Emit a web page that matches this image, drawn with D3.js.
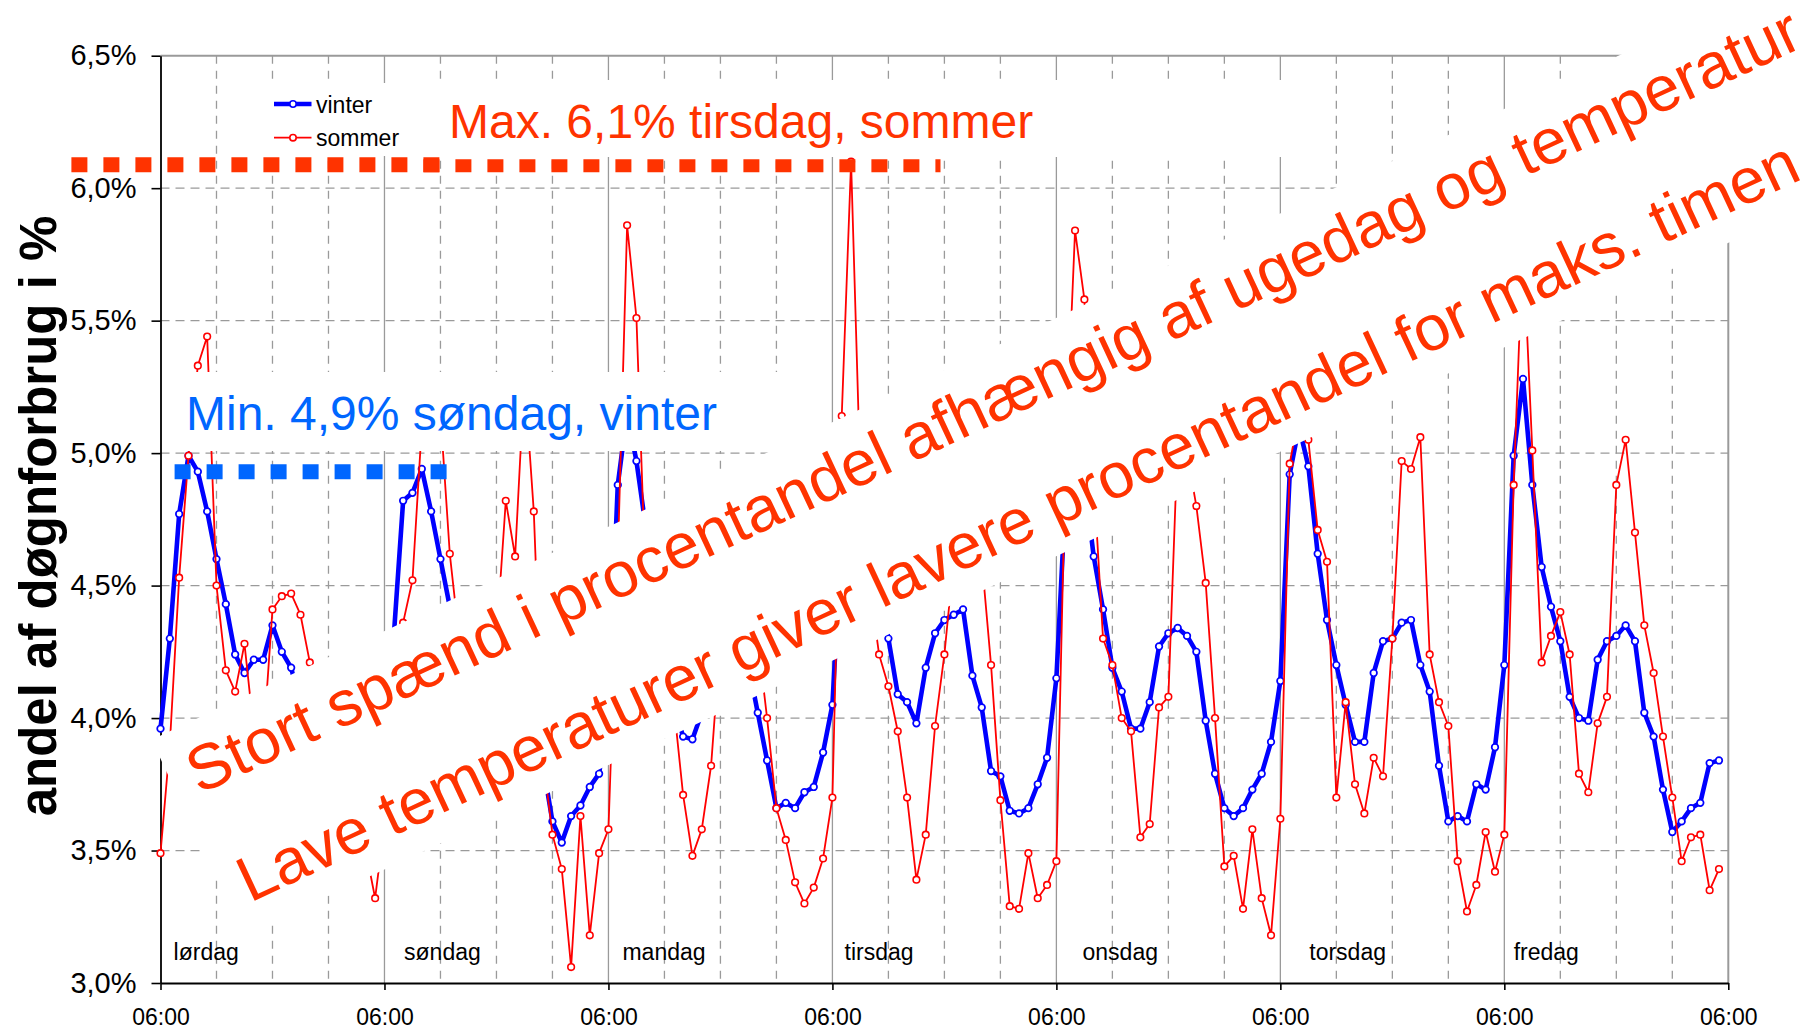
<!DOCTYPE html>
<html><head><meta charset="utf-8">
<script src="https://cdn.jsdelivr.net/npm/d3@7"></script>
<style>
body{margin:0;background:#fff}
svg{display:block}
text{font-family:"Liberation Sans",Arial,Helvetica,sans-serif}
</style>
</head><body>
<svg id="c" width="1807" height="1029"></svg>
<script>
// ---------------- DATA ----------------
const days = ["lørdag","søndag","mandag","tirsdag","onsdag","torsdag","fredag"];
const yTicks = [3.0, 3.5, 4.0, 4.5, 5.0, 5.5, 6.0, 6.5];
const xTickLabels = ["06:00","06:00","06:00","06:00","06:00","06:00","06:00","06:00"];
const seriesNames = ["vinter","sommer"];

// hourly share of daily consumption (%), 24 values per day, starting 06:00 lørdag
const vinter = [
  3.96,4.30,4.77,4.99,4.93,4.78,4.60,4.43,4.24,4.17,4.22,4.22,4.35,4.25,4.19,4.05,3.90,3.78,3.68,3.62,3.62,3.68,3.80,3.95,
  4.05,4.31,4.82,4.85,4.94,4.78,4.60,4.42,4.30,4.25,4.22,4.22,4.28,4.22,4.10,3.98,3.88,3.82,3.61,3.53,3.63,3.67,3.74,3.79,
  4.03,4.88,5.15,4.97,4.72,4.45,4.20,4.05,3.93,3.92,4.02,4.15,4.30,4.35,4.30,4.20,4.02,3.84,3.66,3.68,3.66,3.72,3.74,3.87,
  4.05,4.70,5.13,4.95,4.70,4.50,4.30,4.09,4.06,3.98,4.19,4.32,4.37,4.39,4.41,4.16,4.04,3.80,3.78,3.65,3.64,3.66,3.75,3.85,
  4.15,4.85,5.00,4.90,4.61,4.41,4.19,4.10,3.96,3.96,4.06,4.27,4.32,4.34,4.31,4.25,3.99,3.79,3.66,3.63,3.66,3.73,3.79,3.91,
  4.14,4.92,5.10,4.95,4.62,4.37,4.20,4.05,3.91,3.91,4.17,4.29,4.30,4.36,4.37,4.20,4.10,3.82,3.61,3.63,3.61,3.75,3.73,3.89,
  4.20,4.99,5.28,4.88,4.57,4.42,4.29,4.08,4.00,3.99,4.22,4.29,4.31,4.35,4.29,4.02,3.93,3.73,3.57,3.61,3.66,3.68,3.83,3.84
];
const sommer = [
  3.49,3.90,4.53,4.99,5.33,5.44,4.50,4.18,4.10,4.28,3.95,3.90,4.41,4.46,4.47,4.39,4.21,4.00,3.80,3.65,3.55,3.50,3.50,3.32,
  3.60,4.00,4.36,4.52,5.10,5.20,5.15,4.62,4.30,4.10,4.00,4.05,4.30,4.82,4.61,5.29,4.78,3.85,3.56,3.43,3.06,3.63,3.18,3.49,
  3.58,4.60,5.86,5.51,4.50,4.30,4.10,4.05,3.71,3.48,3.58,3.82,4.30,4.45,4.50,4.45,4.30,4.00,3.66,3.54,3.38,3.30,3.36,3.47,
  3.70,5.14,6.10,4.90,4.50,4.24,4.12,3.95,3.70,3.39,3.56,3.97,4.24,4.60,4.75,4.80,4.60,4.20,3.69,3.29,3.28,3.49,3.32,3.37,
  3.46,5.00,5.84,5.58,4.90,4.30,4.20,4.00,3.95,3.55,3.60,4.04,4.08,5.05,5.00,4.80,4.51,4.00,3.44,3.48,3.28,3.58,3.32,3.18,
  3.62,4.96,5.15,5.05,4.71,4.59,3.70,4.06,3.75,3.64,3.85,3.78,4.30,4.97,4.94,5.06,4.24,4.06,3.97,3.46,3.27,3.37,3.57,3.42,
  3.56,4.88,5.80,5.01,4.21,4.31,4.40,4.24,3.79,3.72,3.98,4.08,4.88,5.05,4.70,4.35,4.17,3.93,3.70,3.46,3.55,3.56,3.35,3.43
];
const maxNote = "Max. 6,1% tirsdag, sommer";
const minNote = "Min. 4,9% søndag, vinter";
const maxLevel = 6.1, minLevel = 4.93;
const bigNotes = ["Stort spænd i procentandel afhængig af ugedag og temperatur",
                  "Lave temperaturer giver lavere procentandel for maks. timen"];
const yTitle = "andel af døgnforbrug i %";

// ---------------- LAYOUT ----------------
const L = 160.5, R = 1728.3, T = 55.7, B = 983;
const dayLabelHourOffset = [1.4, 2.1, 1.5, 1.3, 2.8, 3.1, 1.0];
const GRID = "#9a9a9a";
const BLUE = "#0000ff", RED = "#ff0000", NOTE_RED = "#ff3300", NOTE_BLUE = "#0066ff";

const svg = d3.select("#c");
const nH = vinter.length;
const x = d3.scaleLinear().domain([0, nH]).range([L, R]);
const y = d3.scaleLinear().domain([3, 6.5]).range([B, T]);

// grid
const g = svg.append("g");
g.selectAll("line.h").data(yTicks.filter(v => v > 3 && v < 6.5)).join("line")
  .attr("x1", L).attr("x2", R).attr("y1", d => y(d)).attr("y2", d => y(d))
  .attr("stroke", GRID).attr("stroke-width", 1.3).attr("stroke-dasharray", "9,6");
g.selectAll("line.v").data(d3.range(6, nH, 6)).join("line")
  .attr("x1", d => x(d)).attr("x2", d => x(d)).attr("y1", T).attr("y2", B)
  .attr("stroke", GRID).attr("stroke-width", 1.3)
  .attr("stroke-dasharray", d => d % 24 === 0 ? null : "8,7");
// top and right border
g.append("line").attr("x1", L).attr("x2", R).attr("y1", y(6.5)).attr("y2", y(6.5))
  .attr("stroke", GRID).attr("stroke-width", 2);
g.append("line").attr("x1", R).attr("x2", R).attr("y1", T).attr("y2", B)
  .attr("stroke", GRID).attr("stroke-width", 2);

// axes
const yAxis = svg.append("g").attr("transform", `translate(${L},0)`)
  .call(d3.axisLeft(y).tickValues(yTicks).tickSize(9).tickSizeOuter(0).tickPadding(15)
        .tickFormat(d => d.toFixed(1).replace(".", ",") + "%"));
yAxis.selectAll("text").attr("font-size", 29).attr("fill", "#000")
  .style("font-family", '"Liberation Sans",Arial,sans-serif');
yAxis.selectAll("line").attr("stroke", "#000").attr("stroke-width", 1.6);
yAxis.select(".domain").attr("stroke", "#000").attr("stroke-width", 1.8);

const xAxis = svg.append("g").attr("transform", `translate(0,${B})`)
  .call(d3.axisBottom(x).tickValues(d3.range(0, nH + 1, 24)).tickSize(7).tickSizeOuter(0).tickPadding(19)
        .tickFormat((d, i) => xTickLabels[i]));
xAxis.selectAll("text").attr("font-size", 23).attr("fill", "#000")
  .style("font-family", '"Liberation Sans",Arial,sans-serif');
xAxis.selectAll("line").attr("stroke", "#000").attr("stroke-width", 1.6);
xAxis.select(".domain").attr("stroke", "#000").attr("stroke-width", 2);

// day labels
svg.append("g").selectAll("text").data(days).join("text")
  .attr("x", (d, i) => x(i * 24 + dayLabelHourOffset[i])).attr("y", 960)
  .attr("font-size", 23).attr("fill", "#000").text(d => d);

// y title
svg.append("text").attr("transform", `translate(56,516) rotate(-90)`)
  .attr("text-anchor", "middle").attr("font-size", 51).attr("font-weight", "bold")
  .attr("fill", "#000").text(yTitle);

// series
const line = d3.line().x((d, i) => x(i)).y(d => y(d));
function drawSeries(data, color, w, r, sw) {
  const s = svg.append("g");
  s.append("path").datum(data).attr("d", line).attr("fill", "none")
    .attr("stroke", color).attr("stroke-width", w).attr("stroke-linejoin", "round");
  s.selectAll("circle").data(data).join("circle")
    .attr("cx", (d, i) => x(i)).attr("cy", d => y(d)).attr("r", r)
    .attr("fill", "#fff").attr("stroke", color).attr("stroke-width", sw);
}
drawSeries(vinter, BLUE, 4.6, 3.3, 1.7);
drawSeries(sommer, RED, 1.8, 3.3, 1.6);

// legend (white box)
const lg = svg.append("g");
lg.append("rect").attr("x", 262).attr("y", 83).attr("width", 168).attr("height", 73).attr("fill", "#fff");
const legendItems = [{name: seriesNames[0], c: BLUE, w: 4.6, yy: 104},
                     {name: seriesNames[1], c: RED, w: 1.8, yy: 137.7}];
legendItems.forEach(it => {
  lg.append("line").attr("x1", 274).attr("x2", 311.5).attr("y1", it.yy).attr("y2", it.yy)
    .attr("stroke", it.c).attr("stroke-width", it.w);
  lg.append("circle").attr("cx", 293).attr("cy", it.yy).attr("r", 3.2).attr("fill", "#fff")
    .attr("stroke", it.c).attr("stroke-width", 1.6);
  lg.append("text").attr("x", 316).attr("y", it.yy + 8.5).attr("font-size", 23)
    .attr("fill", "#000").text(it.name);
});

// Max annotation
svg.append("rect").attr("x", 430).attr("y", 80).attr("width", 880).attr("height", 77).attr("fill", "#fff");
svg.append("text").attr("x", 449).attr("y", 138).attr("font-size", 48).attr("fill", NOTE_RED).text(maxNote);
svg.append("line").attr("x1", 71.4).attr("x2", 440).attr("y1", y(maxLevel) + 3).attr("y2", y(maxLevel) + 3)
  .attr("stroke", NOTE_RED).attr("stroke-width", 15).attr("stroke-dasharray", "16,16");
svg.append("line").attr("x1", 423.4).attr("x2", 940.5).attr("y1", y(maxLevel) + 4).attr("y2", y(maxLevel) + 4)
  .attr("stroke", NOTE_RED).attr("stroke-width", 13).attr("stroke-dasharray", "16,16");

// Min annotation
svg.append("rect").attr("x", 163).attr("y", 372).attr("width", 647).attr("height", 79).attr("fill", "#fff");
svg.append("text").attr("x", 186).attr("y", 430).attr("font-size", 48).attr("fill", NOTE_BLUE).text(minNote);
svg.append("line").attr("x1", 174.6).attr("x2", 447).attr("y1", y(minLevel)).attr("y2", y(minLevel))
  .attr("stroke", NOTE_BLUE).attr("stroke-width", 15).attr("stroke-dasharray", "16,16");

// big rotated note box
const nb = svg.append("g").attr("transform", "translate(203,793) rotate(-25)");
nb.append("rect").attr("x", -24).attr("y", -70).attr("width", 1950).attr("height", 216).attr("fill", "#fff");
nb.selectAll("text").data(bigNotes).join("text")
  .attr("x", -4).attr("y", (d, i) => i * 119.6).attr("font-size", 64).attr("fill", NOTE_RED).text(d => d);
</script>
</body></html>
